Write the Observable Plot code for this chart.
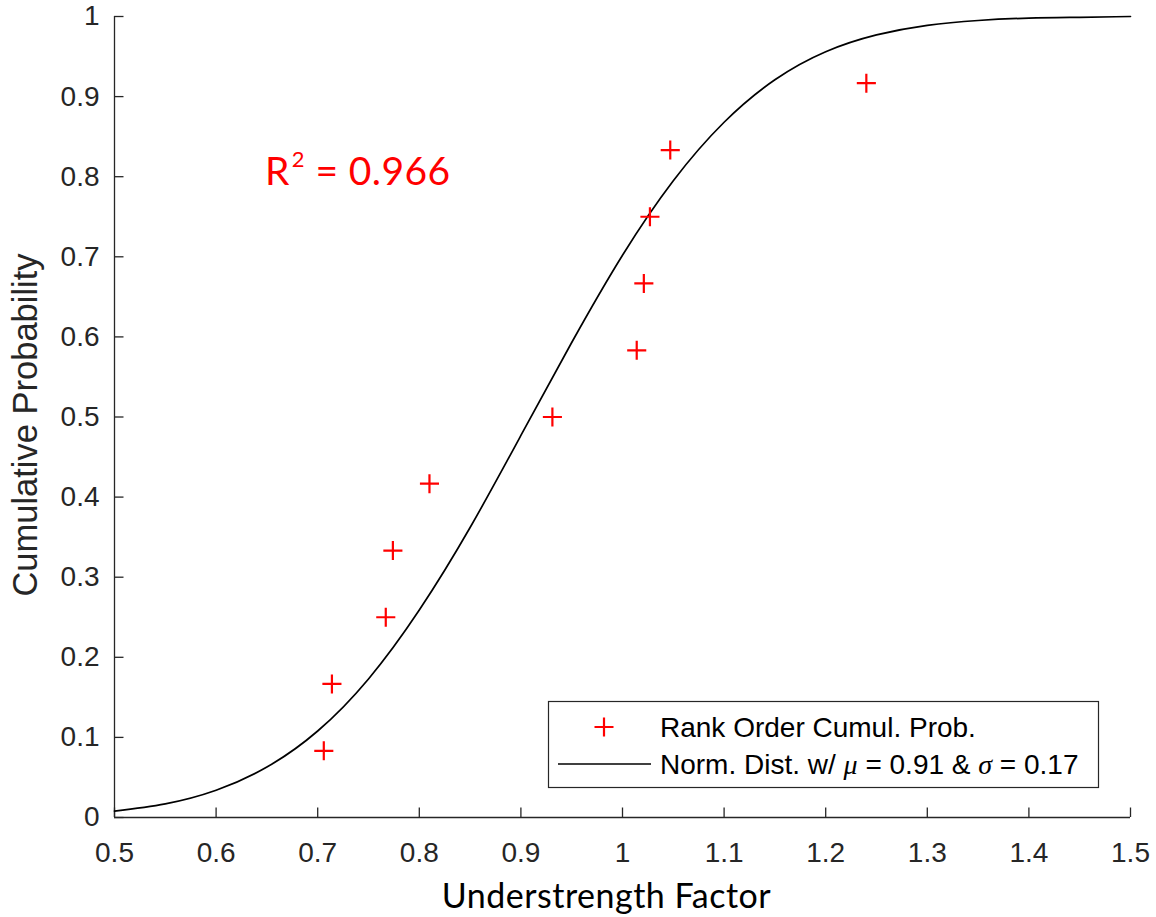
<!DOCTYPE html>
<html>
<head>
<meta charset="utf-8">
<script src="https://cdn.jsdelivr.net/npm/d3@7"></script>
<script src="https://cdn.jsdelivr.net/npm/@observablehq/plot@0.6"></script>
<style>
  html, body { margin: 0; padding: 0; background: #fff; }
  #wrap { position: relative; width: 1156px; height: 917px; }
</style>
</head>
<body>
<div id="wrap"></div>
<script>
// Rank-order cumulative probability points
const pointX = [0.706, 0.714, 0.767, 0.774, 0.810, 0.931, 1.014, 1.021, 1.027, 1.047, 1.240];
const pointY = [0.0833, 0.1667, 0.25, 0.3333, 0.4167, 0.5, 0.5833, 0.6667, 0.75, 0.8333, 0.9167];

// Fitted normal distribution curve
const curveX = [0.50, 0.55, 0.60, 0.65, 0.70, 0.75, 0.80, 0.85, 0.90, 0.95, 1.00, 1.05, 1.10, 1.15, 1.20, 1.25, 1.30, 1.35, 1.40, 1.45, 1.50];
const curveY = [0.008, 0.017, 0.034, 0.063, 0.108, 0.173, 0.259, 0.362, 0.477, 0.593, 0.702, 0.795, 0.868, 0.921, 0.956, 0.977, 0.989, 0.995, 0.998, 0.999, 1.000];

const xTicks = [0.5, 0.6, 0.7, 0.8, 0.9, 1, 1.1, 1.2, 1.3, 1.4, 1.5];
const yTicks = [0, 0.1, 0.2, 0.3, 0.4, 0.5, 0.6, 0.7, 0.8, 0.9, 1];

const xLabel = "Understrength Factor";
const yLabel = "Cumulative Probability";
const legendPoints = "Rank Order Cumul. Prob.";
const legendCurve = ["Norm. Dist. w/ ", "μ", " = 0.91 & ", "σ", " = 0.17"];
const r2Text = ["R", "2", " = 0.966"];

const points = pointX.map((x, i) => ({x, y: pointY[i]}));
const curve = curveX.map((x, i) => ({x, y: curveY[i]}));

const W = 1156, H = 917;
const mL = 114, mR = 26, mT = 16, mB = 100;
const frameW = W - mL - mR, frameH = H - mT - mB;
const axisColor = "#262626";
const arial = "'Liberation Sans', Arial, sans-serif";
const lato = "Lato, 'Open Sans', sans-serif";

const fmt = d => String(d);

const chart = Plot.plot({
  width: W,
  height: H,
  marginLeft: mL,
  marginRight: mR,
  marginTop: mT,
  marginBottom: mB,
  style: {background: "#fff", fontFamily: arial, fontSize: "28px"},
  x: {domain: [0.5, 1.5], axis: null},
  y: {domain: [0, 1], axis: null},
  marks: [
    // inward ticks
    Plot.tickX(xTicks, {x: d => d, stroke: axisColor, strokeWidth: 1.3, insetTop: frameH - 9.5}),
    Plot.tickY(yTicks, {y: d => d, stroke: axisColor, strokeWidth: 1.3, insetRight: frameW - 9.5}),
    // axis lines
    Plot.ruleX([0.5], {stroke: axisColor, strokeWidth: 1.3}),
    Plot.ruleY([0], {stroke: axisColor, strokeWidth: 1.3}),
    // tick labels
    Plot.axisX(xTicks, {tickSize: 0, tickPadding: 25, tickFormat: fmt, fontSize: 28, fill: axisColor, label: null}),
    Plot.axisY(yTicks, {tickSize: 0, tickPadding: 15, tickFormat: fmt, fontSize: 28, fill: axisColor, label: null}),
    // fitted curve
    Plot.line(curve, {x: "x", y: "y", stroke: "#000", strokeWidth: 1.7, curve: "natural"}),
    // data points
    Plot.dot(points, {x: "x", y: "y", symbol: "plus", stroke: "#ff0000", strokeWidth: 2.2, r: 6.2})
  ]
});

document.getElementById("wrap").appendChild(chart);
const svg = d3.select(chart);

// Axis titles
svg.append("text")
  .attr("transform", "translate(37,425) rotate(-90)")
  .attr("text-anchor", "middle")
  .attr("font-family", arial)
  .attr("font-size", 34.5)
  .attr("fill", axisColor)
  .text(yLabel);

svg.append("text")
  .attr("x", 606.5).attr("y", 908)
  .attr("text-anchor", "middle")
  .attr("font-family", lato)
  .attr("font-size", 34)
  .attr("letter-spacing", 0.5)
  .attr("fill", "#000")
  .text(xLabel);

// R² annotation
const r2 = svg.append("text")
  .attr("x", 265).attr("y", 185)
  .attr("text-anchor", "start")
  .attr("font-family", lato)
  .attr("font-size", 39)
  .attr("letter-spacing", 0.4)
  .attr("fill", "#ff0000");
r2.append("tspan").text(r2Text[0]);
r2.append("tspan").attr("dx", 2).attr("dy", -18).attr("font-size", 22).text(r2Text[1]);
r2.append("tspan").attr("dy", 18).text(r2Text[2]);

// Legend
const lg = svg.append("g").attr("text-anchor", "start");
lg.append("rect")
  .attr("x", 548.5).attr("y", 701.5).attr("width", 550).attr("height", 86)
  .attr("fill", "#fff").attr("stroke", axisColor).attr("stroke-width", 1.2);
lg.append("path")
  .attr("d", "M594.5,727H613.5M604,717.5V736.5")
  .attr("stroke", "#ff0000").attr("stroke-width", 2.2).attr("fill", "none");
lg.append("text")
  .attr("x", 660).attr("y", 737)
  .attr("text-anchor", "start")
  .attr("font-family", arial).attr("font-size", 28).attr("fill", "#000")
  .text(legendPoints);
lg.append("path")
  .attr("d", "M558,764H651")
  .attr("stroke", "#000").attr("stroke-width", 1.3).attr("fill", "none");
const t2 = lg.append("text")
  .attr("x", 660).attr("y", 774)
  .attr("text-anchor", "start")
  .attr("font-family", arial).attr("font-size", 28).attr("fill", "#000")
  .style("white-space", "pre");
legendCurve.forEach((s, i) => {
  const ts = t2.append("tspan").text(s);
  if (i === 1 || i === 3) ts.attr("font-family", "'Liberation Serif', 'DejaVu Serif', serif").attr("font-style", "italic");
});
</script>
</body>
</html>
